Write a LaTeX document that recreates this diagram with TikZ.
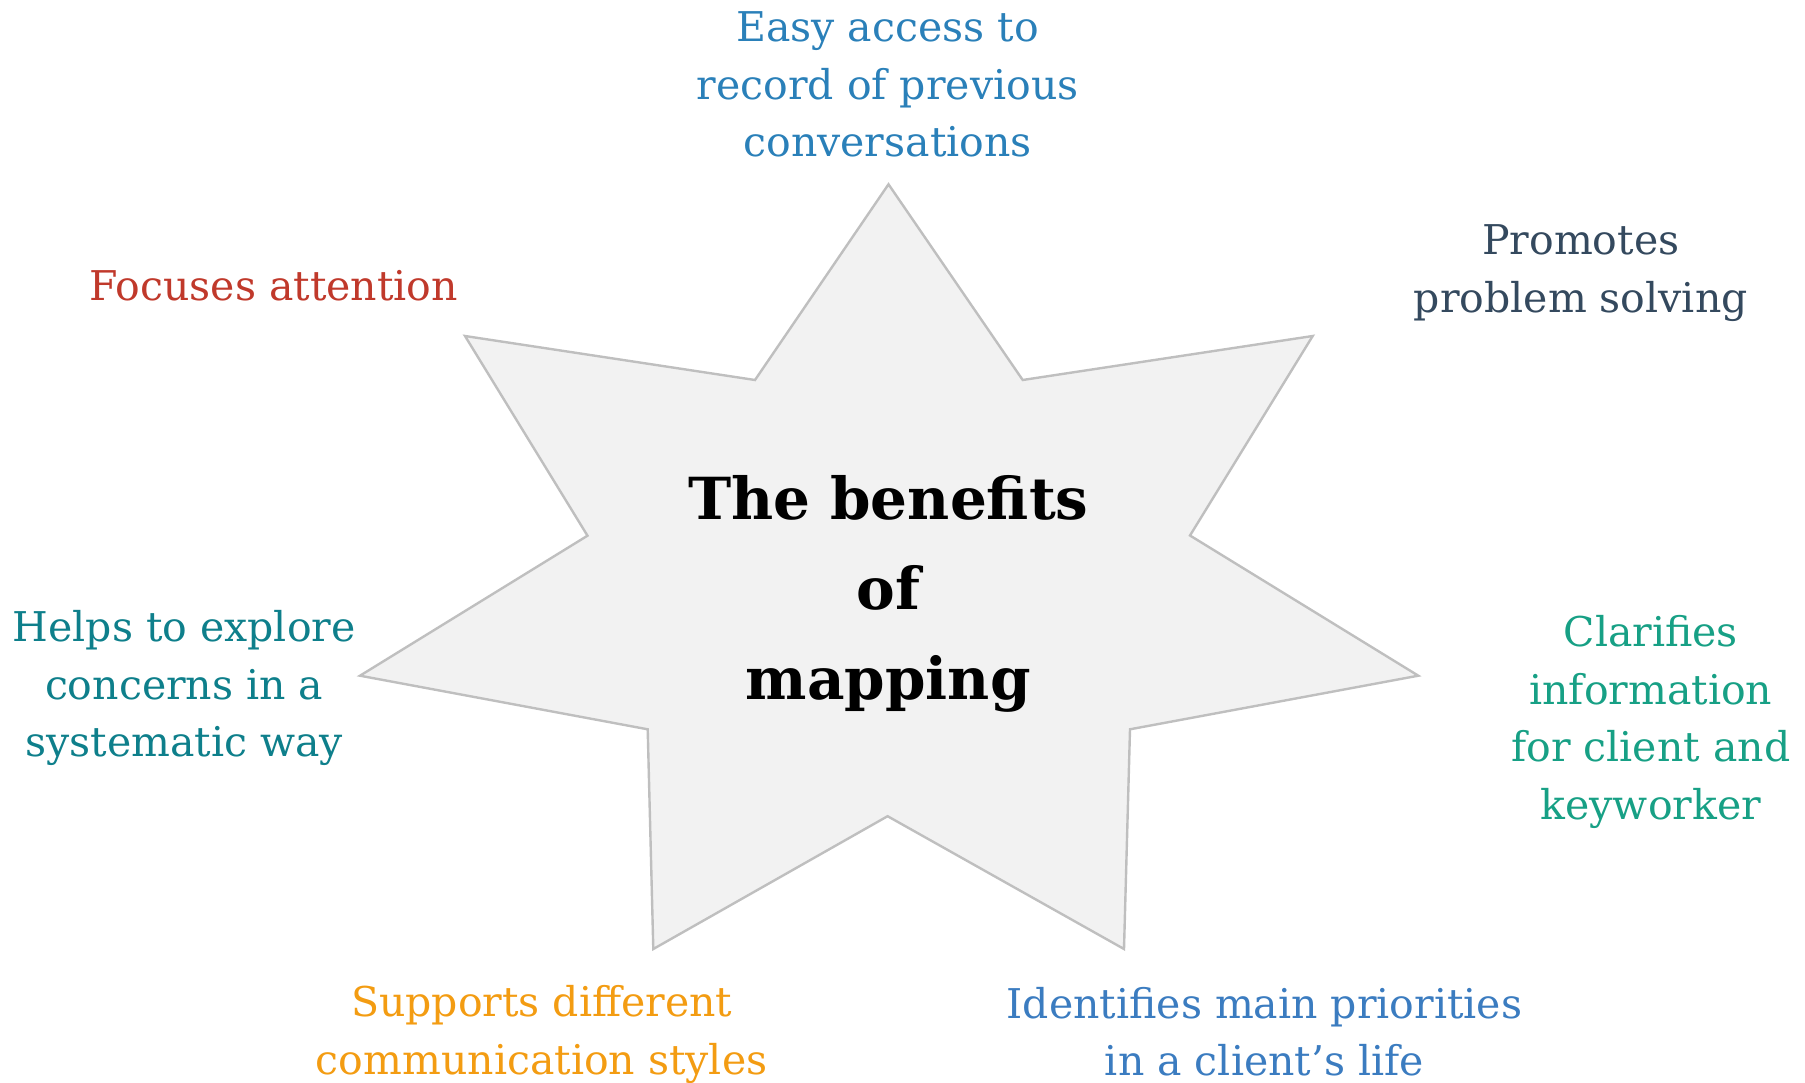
\documentclass[tikz,border=0pt]{standalone}
\usepackage{fontspec}
\setmainfont{DejaVu Serif}
\definecolor{cEasy}{HTML}{2A80B9}
\definecolor{cProm}{HTML}{34495E}
\definecolor{cFoc}{HTML}{C0392B}
\definecolor{cHelp}{HTML}{0E7F8B}
\definecolor{cClar}{HTML}{17A085}
\definecolor{cSupp}{HTML}{F39C12}
\definecolor{cIdent}{HTML}{3B7CC0}
\definecolor{starfill}{HTML}{F2F2F2}
\definecolor{starline}{HTML}{BFBFBF}
\newcommand{\lbltext}[1]{\fontsize{41}{57.5}\selectfont\begin{tabular}[t]{@{}c@{}}#1\end{tabular}}
\begin{document}
\begin{tikzpicture}[x=1pt,y=-1pt,
  lbl/.style={inner sep=0pt, outer sep=0pt, anchor=base},
  starshape/.style={fill=starfill, draw=starline, line width=2.4pt, line join=miter}]
\useasboundingbox (0,0) rectangle (1805,1083);
\path[starshape] (888.5,184.3) -- (1022.7,380) -- (1312.7,336) -- (1190,535.5)
  -- (1418.3,675.7) -- (1130,729.3) -- (1124,949) -- (887.6,816.2)
  -- (653.3,949) -- (647.7,729.3) -- (360,675.7) -- (587.5,535.7)
  -- (465,336) -- (755,380) -- cycle;
\node[lbl] (title) at (888.3,519) {\fontsize{58}{90}\selectfont\bfseries\begin{tabular}[t]{@{}c@{}}The benefits\\of\\mapping\end{tabular}};
\node[lbl, text=cEasy] (easy) at (887.6,41.7) {\lbltext{Easy access to\\record of previous\\conversations}};
\node[lbl, text=cProm] (prom) at (1580.8,255) {\lbltext{Promotes\\problem solving}};
\node[lbl, text=cFoc] (foc) at (273.7,301) {\lbltext{Focuses attention}};
\node[lbl, text=cHelp] (help) at (184.2,641.7) {\lbltext{Helps to explore\\concerns in a\\systematic way}};
\node[lbl, text=cClar] (clar) at (1650.8,646.7) {\lbltext{Clarifies\\information\\for client and\\keyworker}};
\node[lbl, text=cSupp] (supp) at (541.7,1016.7) {\lbltext{Supports different\\communication styles}};
\node[lbl, text=cIdent] (ident) at (1264.5,1018.3) {\lbltext{Identifies main priorities\\in a client’s life}};
\end{tikzpicture}
\end{document}
